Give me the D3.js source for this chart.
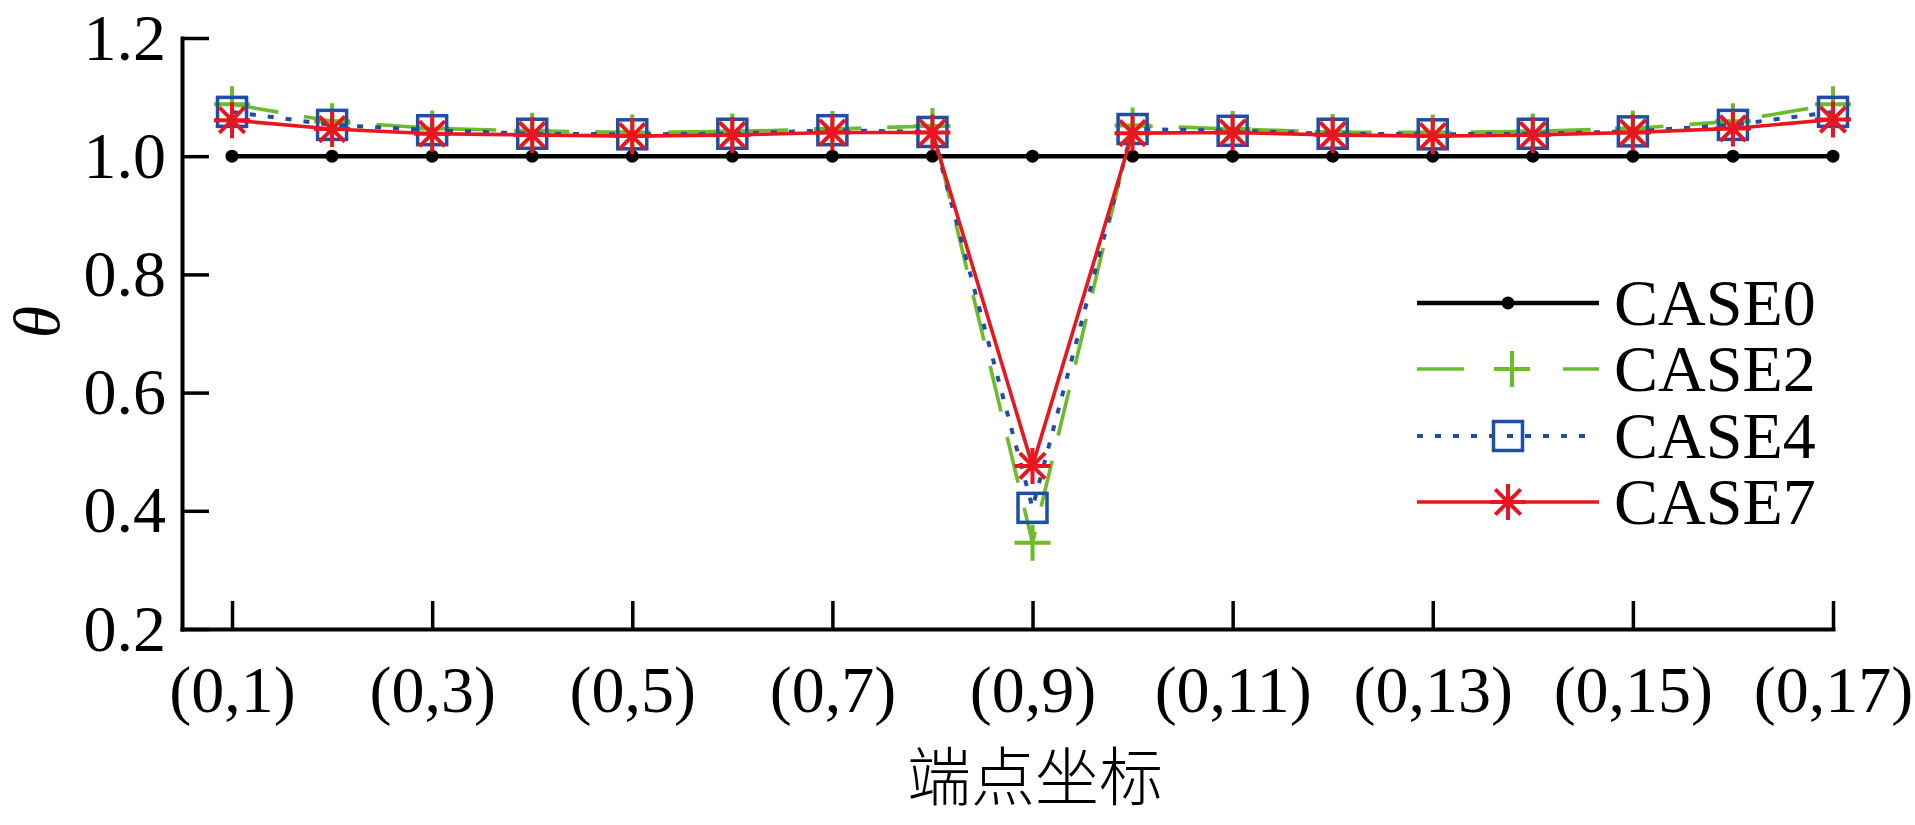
<!DOCTYPE html>
<html>
<head>
<meta charset="utf-8">
<script src="https://cdn.jsdelivr.net/npm/d3@7"></script>
<style>
  html, body { margin: 0; padding: 0; background: #fff; }
  svg { display: block; }
</style>
</head>
<body>
<svg id="chart" width="1915" height="825"></svg>
<script>
// ---------- data ----------
const xIndex = [1,2,3,4,5,6,7,8,9,10,11,12,13,14,15,16,17];
const xTickValues = [1,3,5,7,9,11,13,15,17];
const xTickLabels = ["(0,1)","(0,3)","(0,5)","(0,7)","(0,9)","(0,11)","(0,13)","(0,15)","(0,17)"];
const yTickValues = [0.2,0.4,0.6,0.8,1.0,1.2];
const seriesNames = ["CASE0","CASE2","CASE4","CASE7"];
const case0 = [1,1,1,1,1,1,1,1,1,1,1,1,1,1,1,1,1];
const case2 = [1.088,1.059,1.047,1.043,1.040,1.042,1.046,1.051,0.346,1.052,1.046,1.041,1.040,1.042,1.047,1.059,1.088];
const case4 = [1.075,1.053,1.044,1.038,1.037,1.038,1.044,1.041,0.405,1.046,1.043,1.038,1.037,1.038,1.042,1.053,1.075];
const case7 = [1.061,1.046,1.038,1.036,1.034,1.036,1.040,1.040,0.476,1.039,1.040,1.036,1.034,1.036,1.040,1.047,1.062];
const xTitle = "端点坐标";
const yTitle = "θ";

// ---------- styles ----------
const styles = [
  {color:"#000000", width:4.5, dash:null,    marker:"dot"},
  {color:"#6cbb2b", width:3.6, dash:"47,26", marker:"plus"},
  {color:"#1e4ea5", width:4,   dash:"6,12",  marker:"square"},
  {color:"#e8161e", width:3.6, dash:null,    marker:"star"}
];
const allValues = [case0, case2, case4, case7];

const svg = d3.select("#chart");
const serif = "'Liberation Serif','Times New Roman',serif";

const x = d3.scaleLinear().domain([0.5, 17]).range([182, 1833]);
const y = d3.scaleLinear().domain([0.2, 1.2]).range([629, 38]);

// axes
const xAxis = d3.axisBottom(x).tickValues(xTickValues)
  .tickFormat((d,i) => xTickLabels[i]).tickSize(-28).tickSizeOuter(0).tickPadding(36);
const yAxis = d3.axisLeft(y).tickValues(yTickValues)
  .tickFormat(d3.format(".1f")).tickSize(-27).tickSizeOuter(0).tickPadding(16);

const gx = svg.append("g").attr("transform", "translate(0,629)").call(xAxis);
const gy = svg.append("g").attr("transform", "translate(182,0)").call(yAxis);
[gx, gy].forEach(g => {
  g.select(".domain").attr("stroke", "#000").attr("stroke-width", 4).attr("stroke-linecap","square");
  g.selectAll(".tick line").attr("stroke", "#000").attr("stroke-width", 3.5);
  g.selectAll(".tick text").attr("font-family", serif).attr("font-size", 66).attr("fill", "#000");
});

// titles
svg.append("text").attr("x", 1035).attr("y", 800).attr("text-anchor", "middle")
  .attr("font-family", "'Noto Sans CJK SC', sans-serif").attr("font-size", 64)
  .attr("font-weight", 300).text(xTitle);
svg.append("text").attr("transform", "translate(36,322) rotate(-90)")
  .attr("text-anchor", "middle").attr("dominant-baseline", "central")
  .attr("font-family", serif).attr("font-style", "italic")
  .attr("font-size", 66).text(yTitle);

// markers
function drawMarker(g, type, color) {
  if (type === "dot") {
    g.append("circle").attr("r", 6.5).attr("fill", color);
  } else if (type === "plus") {
    g.append("path").attr("d", "M-18,0H18M0,-18V18").attr("stroke", color)
      .attr("stroke-width", 4).attr("fill", "none");
  } else if (type === "square") {
    g.append("rect").attr("x", -14.5).attr("y", -14.5).attr("width", 29).attr("height", 29)
      .attr("stroke", color).attr("stroke-width", 3.5).attr("fill", "none");
  } else if (type === "star") {
    g.append("path").attr("d", "M-18,0H18M0,-18V18M-12.7,-12.7L12.7,12.7M-12.7,12.7L12.7,-12.7")
      .attr("stroke", color).attr("stroke-width", 4).attr("fill", "none");
  }
}

const line = d3.line().x((d,i) => x(xIndex[i])).y(d => y(d));
allValues.forEach((vals, si) => {
  const st = styles[si];
  const g = svg.append("g");
  g.append("path").datum(vals).attr("d", line).attr("fill", "none")
    .attr("stroke", st.color).attr("stroke-width", st.width)
    .attr("stroke-dasharray", st.dash);
  vals.forEach((v, i) => {
    const mg = g.append("g").attr("transform", `translate(${x(xIndex[i])},${y(v)})`);
    drawMarker(mg, st.marker, st.color);
  });
});

// legend
const legendX0 = 1417, legendX1 = 1599, legendMarkX = 1508, legendTextX = 1614;
const legendRowY = [303, 369, 436, 502];
seriesNames.forEach((name, si) => {
  const st = styles[si];
  const yy = legendRowY[si];
  const g = svg.append("g");
  g.append("line").attr("x1", legendX0).attr("x2", si === 2 ? 1590 : legendX1)
    .attr("y1", yy).attr("y2", yy)
    .attr("stroke", st.color).attr("stroke-width", st.width).attr("stroke-dasharray", st.dash);
  const mg = g.append("g").attr("transform", `translate(${si === 1 ? legendMarkX + 4 : legendMarkX},${yy})`);
  if (si === 1) {
    mg.append("rect").attr("x", -33).attr("y", -4).attr("width", 62).attr("height", 8).attr("fill", "#fff");
  }
  drawMarker(mg, st.marker, st.color);
  g.append("text").attr("x", legendTextX).attr("y", yy + 22)
    .attr("font-family", serif).attr("font-size", 66).attr("fill", "#000").text(name);
});
</script>
</body>
</html>
